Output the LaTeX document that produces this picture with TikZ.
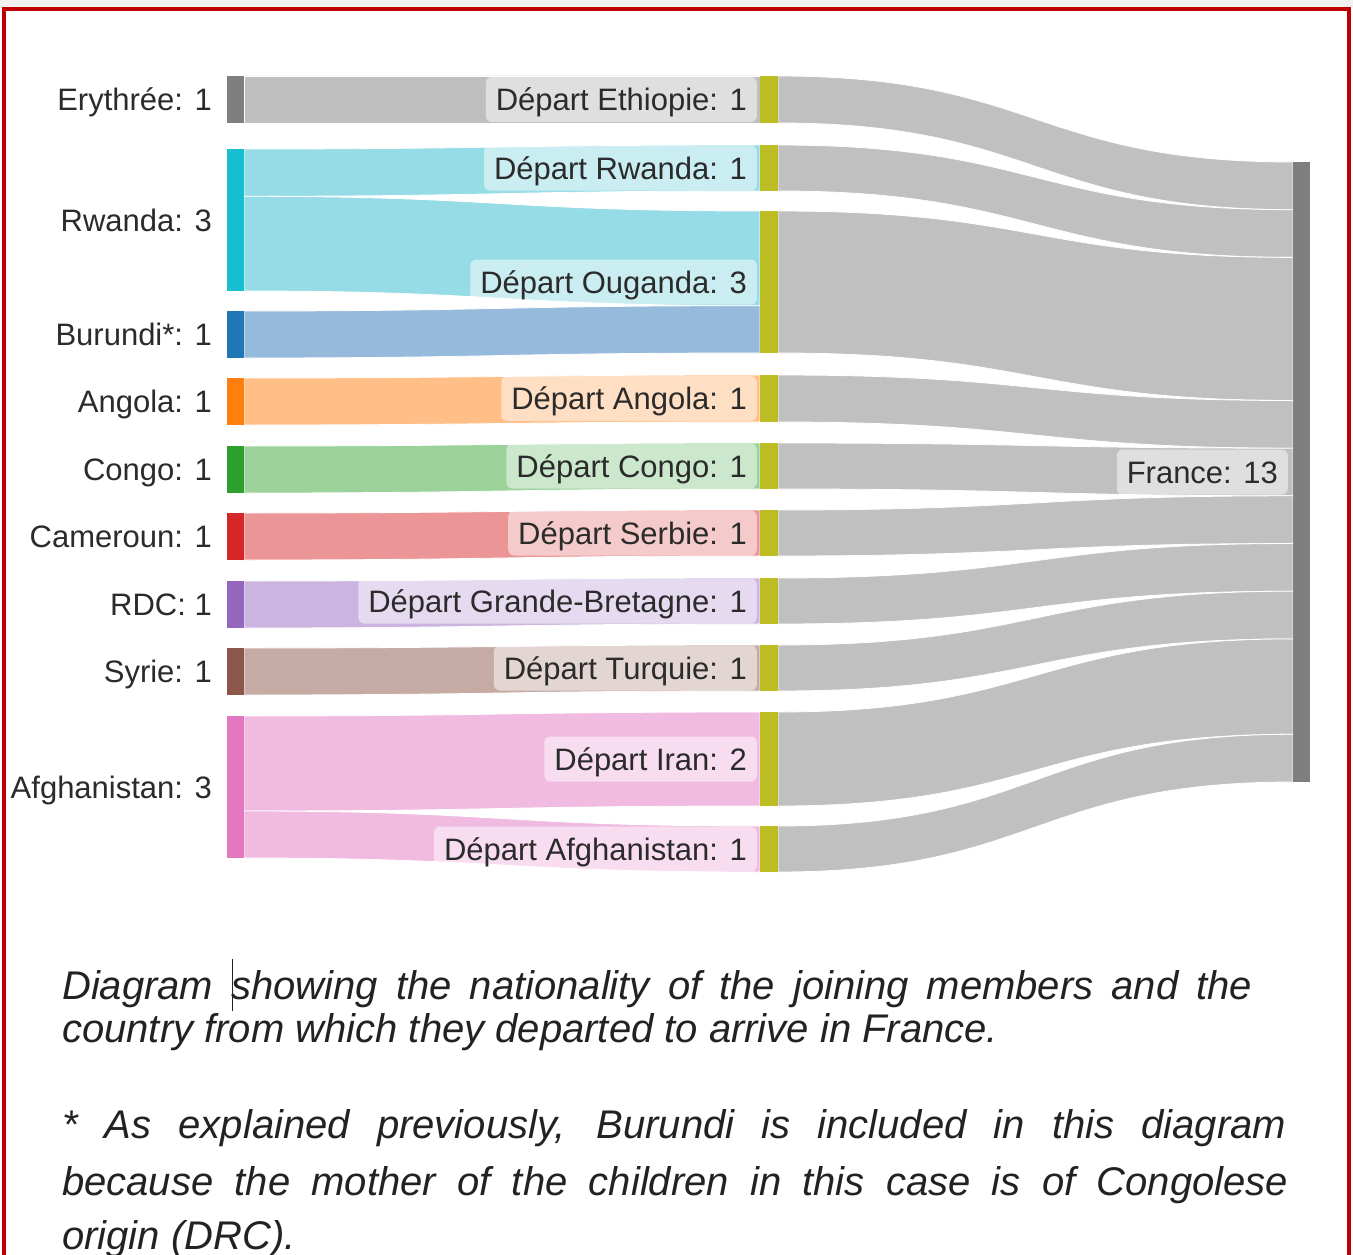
\documentclass[tikz,border=0pt]{standalone}
\usepackage{fontspec}
\setmainfont{Liberation Sans}
\usetikzlibrary{fit}
\definecolor{cEry}{HTML}{7F7F7F}
\definecolor{cRw}{HTML}{17BECF}
\definecolor{cBu}{HTML}{1F77B4}
\definecolor{cAn}{HTML}{FF7F0E}
\definecolor{cCo}{HTML}{2CA02C}
\definecolor{cCa}{HTML}{D62728}
\definecolor{cRDC}{HTML}{9467BD}
\definecolor{cSy}{HTML}{8C564B}
\definecolor{cAf}{HTML}{E377C2}
\definecolor{cMid}{HTML}{BCBD22}
\definecolor{fEry}{HTML}{BFBFBF}
\definecolor{fRw}{HTML}{95DCE6}
\definecolor{fBu}{HTML}{96BADC}
\definecolor{fAn}{HTML}{FFBF87}
\definecolor{fCo}{HTML}{9AD29A}
\definecolor{fCa}{HTML}{EB9596}
\definecolor{fRDC}{HTML}{CBB5E0}
\definecolor{fSy}{HTML}{C6ABA5}
\definecolor{fAf}{HTML}{F1BBE1}
\definecolor{fGr}{HTML}{C0C0C0}
\definecolor{labtxt}{HTML}{2B2B2B}
\definecolor{captxt}{HTML}{222222}
\definecolor{bordred}{HTML}{C00000}
\definecolor{topgrey}{HTML}{F1F1EF}
% flow: x0, y0top, y0bot, x1, y1top, y1bot, colour
\newcommand\sflow[7]{%
  \path[fill=#7, draw=white, line width=0.8pt]
    (#1,#2) .. controls ({(#1+#4)/2},#2) and ({(#1+#4)/2},#5) .. (#4,#5)
    -- (#4,#6) .. controls ({(#1+#4)/2},#6) and ({(#1+#4)/2},#3) .. (#1,#3) -- cycle;}
% bar node: name, colour, x0, y0, x1, y1
\newcommand\sbar[6]{%
  \node[fit={(#3,#4)(#5,#6)}, inner sep=0pt, fill=#2] (#1) {};}
\begin{document}
\begin{tikzpicture}[x=1pt,y=-1pt,
  lab/.style={font=\fontsize{31}{36}\selectfont, text=labtxt, text height=22pt,
    text depth=0pt, inner ysep=11.5pt, inner xsep=10pt},
  midlab/.style={lab, anchor=east, fill=white, fill opacity=0.5, text opacity=1,
    rounded corners=6pt},
  leftlab/.style={lab, anchor=east, inner xsep=2pt},
  captext/.style={font=\fontsize{40}{48}\selectfont\itshape, text=captxt,
    anchor=base west, inner sep=0pt}]
\useasboundingbox (0,0) rectangle (1353,1255);
\fill[white] (0,0) rectangle (1353,1255);
\fill[topgrey] (0,0) rectangle (1353,7);
% border
\fill[bordred] (2,7) rectangle (1351,11);
\fill[bordred] (2,7) rectangle (6,1255);
\fill[bordred] (1347,7) rectangle (1351,1255);

% flows left -> middle
\sflow{244}{76}{123}{760}{76}{123}{fEry}
\sflow{244}{149}{196.3}{760}{145}{191}{fRw}
\sflow{244}{196.3}{291}{760}{211}{305.7}{fRw}
\sflow{244}{311}{358}{760}{305.7}{353}{fBu}
\sflow{244}{378}{425}{760}{375}{422}{fAn}
\sflow{244}{446}{493}{760}{443}{489}{fCo}
\sflow{244}{513}{560}{760}{510}{556}{fCa}
\sflow{244}{581}{628}{760}{578}{624}{fRDC}
\sflow{244}{648}{695}{760}{645}{691}{fSy}
\sflow{244}{716}{811}{760}{712}{806}{fAf}
\sflow{244}{811}{858}{760}{826}{872}{fAf}
% flows middle -> France
\sflow{778}{76}{123}{1293}{162}{209.7}{fGr}
\sflow{778}{145}{191}{1293}{209.7}{257.4}{fGr}
\sflow{778}{211}{353}{1293}{257.4}{400.5}{fGr}
\sflow{778}{375}{422}{1293}{400.5}{448.2}{fGr}
\sflow{778}{443}{489}{1293}{448.2}{495.8}{fGr}
\sflow{778}{510}{556}{1293}{495.8}{543.5}{fGr}
\sflow{778}{578}{624}{1293}{543.5}{591.2}{fGr}
\sflow{778}{645}{691}{1293}{591.2}{638.9}{fGr}
\sflow{778}{712}{806}{1293}{638.9}{734.3}{fGr}
\sflow{778}{826}{872}{1293}{734.3}{782}{fGr}

% left bars
\sbar{ery}{cEry}{227}{76}{244}{123}
\sbar{rw}{cRw}{227}{149}{244}{291}
\sbar{bu}{cBu}{227}{311}{244}{358}
\sbar{an}{cAn}{227}{378}{244}{425}
\sbar{co}{cCo}{227}{446}{244}{493}
\sbar{ca}{cCa}{227}{513}{244}{560}
\sbar{rdc}{cRDC}{227}{581}{244}{628}
\sbar{sy}{cSy}{227}{648}{244}{695}
\sbar{af}{cAf}{227}{716}{244}{858}
% middle bars
\sbar{meth}{cMid}{760}{76}{778}{123}
\sbar{mrw}{cMid}{760}{145}{778}{191}
\sbar{moug}{cMid}{760}{211}{778}{353}
\sbar{man}{cMid}{760}{375}{778}{422}
\sbar{mco}{cMid}{760}{443}{778}{489}
\sbar{mser}{cMid}{760}{510}{778}{556}
\sbar{mgb}{cMid}{760}{578}{778}{624}
\sbar{mtur}{cMid}{760}{645}{778}{691}
\sbar{miran}{cMid}{760}{712}{778}{806}
\sbar{maf}{cMid}{760}{826}{778}{872}
% France bar
\sbar{fr}{cEry}{1293}{162}{1310}{782}

% left labels
\node[leftlab] (lery) at (214,99.5) {Erythrée: 1};
\node[leftlab] (lrw) at (214,220) {Rwanda: 3};
\node[leftlab] (lbu) at (214,334.5) {Burundi*: 1};
\node[leftlab] (lan) at (214,401.5) {Angola: 1};
\node[leftlab] (lco) at (214,469.5) {Congo: 1};
\node[leftlab] (lca) at (214,536.5) {Cameroun: 1};
\node[leftlab] (lrdc) at (214,604.5) {RDC: 1};
\node[leftlab] (lsy) at (214,671.5) {Syrie: 1};
\node[leftlab] (laf) at (214,787) {Afghanistan: 3};
% middle labels
\node[midlab] (leth) at (757,99.5) {Départ Ethiopie: 1};
\node[midlab] (lmrw) at (757,168) {Départ Rwanda: 1};
\node[midlab] (loug) at (757,282) {Départ Ouganda: 3};
\node[midlab] (lman) at (757,398.5) {Départ Angola: 1};
\node[midlab] (lmco) at (757,466) {Départ Congo: 1};
\node[midlab] (lser) at (757,533) {Départ Serbie: 1};
\node[midlab] (lgb) at (757,601) {Départ Grande-Bretagne: 1};
\node[midlab] (ltur) at (757,668) {Départ Turquie: 1};
\node[midlab] (liran) at (757,759) {Départ Iran: 2};
\node[midlab] (lmaf) at (757,849) {Départ Afghanistan: 1};
% France label
\node[midlab] (lfr) at (1288,472) {France: 13};

% caption
\node[captext] (c1) at (62,999) {\makebox[1190pt][s]{Diagram \llap{\rule[-12pt]{1.5pt}{52pt}\kern-2pt}showing the nationality of the joining members and the}};
\node[captext] (c2) at (62,1042) {country from which they departed to arrive in France.};
\node[captext] (c3) at (62,1138) {\makebox[1224pt][s]{* As explained previously, Burundi is included in this diagram}};
\node[captext] (c4) at (62,1195) {\makebox[1226pt][s]{because the mother of the children in this case is of Congolese}};
\node[captext] (c5) at (62,1249) {origin (DRC).};
\end{tikzpicture}
\end{document}
